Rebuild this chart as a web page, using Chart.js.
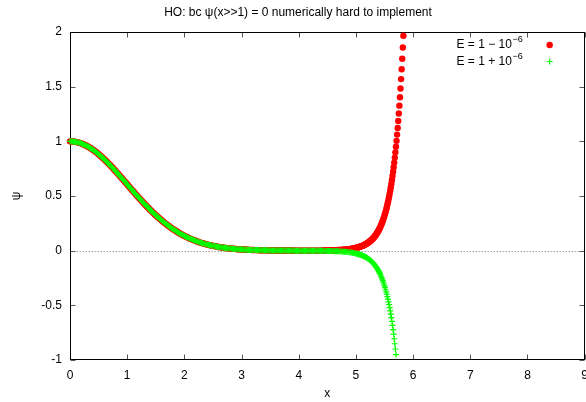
<!DOCTYPE html>
<html>
<head>
<meta charset="utf-8">
<script src="https://cdn.jsdelivr.net/npm/chart.js@4"></script>
<style>
  html, body { margin: 0; padding: 0; background: #fff; overflow: hidden; }
  #wrap { width: 586px; height: 402px; overflow: hidden; }
</style>
</head>
<body>
<div id="wrap"><canvas id="psiChart" width="596" height="402"></canvas></div>
<script>
// x grid: coarse where the curve is smooth, 0.01 where it blows up
const xCoarse = [
  0,0.02,0.04,0.06,0.08,0.1,0.12,0.14,0.16,0.18,0.2,0.22,0.24,0.26,0.28,0.3,0.32,0.34,0.36,0.38,0.4,0.42,0.44,0.46,0.48,
  0.5,0.52,0.54,0.56,0.58,0.6,0.62,0.64,0.66,0.68,0.7,0.72,0.74,0.76,0.78,0.8,0.82,0.84,0.86,0.88,0.9,0.92,0.94,0.96,0.98,
  1,1.02,1.04,1.06,1.08,1.1,1.12,1.14,1.16,1.18,1.2,1.22,1.24,1.26,1.28,1.3,1.32,1.34,1.36,1.38,1.4,1.42,1.44,1.46,1.48,
  1.5,1.52,1.54,1.56,1.58,1.6,1.62,1.64,1.66,1.68,1.7,1.72,1.74,1.76,1.78,1.8,1.82,1.84,1.86,1.88,1.9,1.92,1.94,1.96,1.98,
  2,2.02,2.04,2.06,2.08,2.1,2.12,2.14,2.16,2.18,2.2,2.22,2.24,2.26,2.28,2.3,2.32,2.34,2.36,2.38,2.4,2.42,2.44,2.46,2.48,
  2.5,2.52,2.54,2.56,2.58,2.6,2.62,2.64,2.66,2.68,2.7,2.72,2.74,2.76,2.78,2.8,2.82,2.84,2.86,2.88,2.9,2.92,2.94,2.96,2.98,
  3,3.02,3.04,3.06,3.08,3.1,3.12,3.14,3.16,3.18,3.2,3.22,3.24,3.26,3.28,3.3,3.32,3.34,3.36,3.38,3.4,3.42,3.44,3.46,3.48,
  3.5,3.52,3.54,3.56,3.58,3.6,3.62,3.64,3.66,3.68,3.7,3.72,3.74,3.76,3.78,3.8,3.82,3.84,3.86,3.88,3.9,3.92,3.94,3.96,3.98,
  4,4.02,4.04,4.06,4.08,4.1,4.12,4.14,4.16,4.18,4.2,4.22,4.24,4.26,4.28,4.3,4.32,4.34,4.36,4.38,4.4,4.42,4.44,4.46,4.48,
  4.5,4.52,4.54,4.56,4.58,4.6,4.62,4.64,4.66,4.68,4.7,4.72,4.74,4.76,4.78,4.8,4.82,4.84,4.86,4.88,4.9,4.92,4.94,4.96,4.98,
  5
];
const xFine = [
  5.01,5.02,5.03,5.04,5.05,5.06,5.07,5.08,5.09,5.1,5.11,5.12,5.13,5.14,5.15,5.16,5.17,5.18,5.19,5.2,
  5.21,5.22,5.23,5.24,5.25,5.26,5.27,5.28,5.29,5.3,5.31,5.32,5.33,5.34,5.35,5.36,5.37,5.38,5.39,5.4,
  5.41,5.42,5.43,5.44,5.45,5.46,5.47,5.48,5.49,5.5,5.51,5.52,5.53,5.54,5.55,5.56,5.57,5.58,5.59,5.6,
  5.61,5.62,5.63,5.64,5.65,5.66,5.67,5.68,5.69,5.7,5.71,5.72,5.73,5.74,5.75,5.76,5.77,5.78,5.79,5.8,
  5.81,5.82,5.83
];

// both runs coincide up to x = 4.4
const psiShared = [
  1.000,1.000,0.999,0.998,0.997,0.995,0.993,0.990,0.987,0.984,0.980,0.976,0.972,0.967,0.962,0.956,0.950,0.944,0.937,0.930,0.923,0.916,0.908,0.900,0.891,
  0.882,0.874,0.864,0.855,0.845,0.835,0.825,0.815,0.804,0.794,0.783,0.772,0.761,0.749,0.738,0.726,0.714,0.703,0.691,0.679,0.667,0.655,0.643,0.631,0.619,
  0.607,0.594,0.582,0.570,0.558,0.546,0.534,0.522,0.510,0.498,0.487,0.475,0.464,0.452,0.441,0.430,0.418,0.407,0.397,0.386,0.375,0.365,0.355,0.344,0.334,
  0.325,0.315,0.305,0.296,0.287,0.278,0.269,0.261,0.252,0.244,0.236,0.228,0.220,0.213,0.205,0.198,0.191,0.184,0.177,0.171,0.164,0.158,0.152,0.146,0.141,
  0.135,0.130,0.125,0.120,0.115,0.110,0.106,0.101,0.097,0.093,0.089,0.085,0.081,0.078,0.074,0.071,0.068,0.065,0.062,0.059,0.056,0.053,0.051,0.049,0.046,
  0.044,0.042,0.040,0.038,0.036,0.034,0.032,0.031,0.029,0.028,0.026,0.025,0.023,0.022,0.021,0.020,0.019,0.018,0.017,0.016,0.015,0.014,0.013,0.013,0.012,
  0.011,0.010,0.010,0.009,0.009,0.008,0.008,0.007,0.007,0.006,0.006,0.006,0.005,0.005,0.005,0.004,0.004,0.004,0.004,0.003,0.003,0.003,0.003,0.003,0.002,
  0.002,0.002,0.002,0.002,0.002,0.002,0.001,0.001,0.001,0.001,0.001,0.001,0.001,0.001,0.001,0.001,0.001,0.001,0.001,0.001,0,0,0,0,0,
  0,0,0,0,0,0,0,0,0,0,0,0,0,0,0,0,0,0,0,0,0
];

// E = 1 - 1e-6 : runs away upwards (x = 4.42 ... 5.83)
const psiLowTail = [
  0.0019,0.0021,0.0022,0.0024,0.0027,0.0029,0.0031,0.0034,0.0037,0.0041,0.0045,0.0049,0.0053,0.0058,0.0064,
  0.0070,0.0076,0.0083,0.0091,0.0100,0.0110,0.0120,0.0132,0.0145,0.0159,0.0175,0.0192,0.0212,0.0233,0.0256,
  0.0269,0.0282,0.0296,0.0311,0.0326,0.0342,0.0359,0.0377,0.0396,0.0416,
  0.0437,0.0459,0.0482,0.0507,0.0532,0.0559,0.0588,0.0618,0.0650,0.0683,
  0.0718,0.0755,0.0794,0.0835,0.0878,0.0924,0.0972,0.1023,0.1076,0.1133,
  0.1192,0.1255,0.1321,0.1391,0.1464,0.1542,0.1624,0.1710,0.1802,0.1898,
  0.2000,0.2107,0.2220,0.2340,0.2467,0.2600,0.2741,0.2890,0.3047,0.3214,
  0.3389,0.3575,0.3771,0.3979,0.4198,0.4430,0.4675,0.4934,0.5208,0.5498,
  0.5805,0.6129,0.6472,0.6835,0.7220,0.7626,0.8056,0.8512,0.8994,0.9504,
  1.0044,1.0616,1.1222,1.1864,1.2544,1.3264,1.4027,1.4835,1.5691,1.6599,
  1.7560,1.8580,1.9660
];

// E = 1 + 1e-6 : runs away downwards (x = 4.42 ... 5.70)
const psiHighTail = [
  -0.0019,-0.0021,-0.0022,-0.0024,-0.0027,-0.0029,-0.0031,-0.0034,-0.0037,-0.0041,-0.0045,-0.0049,-0.0053,-0.0058,-0.0064,
  -0.0070,-0.0076,-0.0083,-0.0091,-0.0100,-0.0110,-0.0120,-0.0132,-0.0145,-0.0159,-0.0175,-0.0192,-0.0212,-0.0233,-0.0256,
  -0.0269,-0.0282,-0.0296,-0.0311,-0.0326,-0.0342,-0.0359,-0.0377,-0.0396,-0.0416,
  -0.0437,-0.0459,-0.0482,-0.0507,-0.0532,-0.0559,-0.0588,-0.0618,-0.0650,-0.0683,
  -0.0718,-0.0755,-0.0794,-0.0835,-0.0878,-0.0924,-0.0972,-0.1023,-0.1076,-0.1133,
  -0.1192,-0.1255,-0.1321,-0.1391,-0.1464,-0.1542,-0.1624,-0.1710,-0.1802,-0.1898,
  -0.2000,-0.2107,-0.2220,-0.2340,-0.2467,-0.2600,-0.2741,-0.2890,-0.3047,-0.3214,
  -0.3389,-0.3575,-0.3771,-0.3979,-0.4198,-0.4430,-0.4675,-0.4934,-0.5208,-0.5498,
  -0.5805,-0.6129,-0.6472,-0.6835,-0.7220,-0.7626,-0.8056,-0.8512,-0.8994,-0.9504
];

const seriesLabels = ['E = 1 \u2212 10', 'E = 1 + 10'];
const labelPowers = ['\u22126', '\u22126'];
const titleText = 'HO: bc \u03c8(x>>1) = 0 numerically hard to implement';

const xs = xCoarse.concat(xFine);
const toPoints = ys => ys.map((y, i) => ({ x: xs[i], y: y }));

const FONT = '"Liberation Sans", Arial, Helvetica, sans-serif';
Chart.defaults.font.family = FONT;
Chart.defaults.font.size = 12;
Chart.defaults.color = '#000';

// gnuplot look: dotted zero axis, full frame with inward ticks, key inside
const gnuplotFrame = {
  id: 'gnuplotFrame',
  beforeDatasetsDraw(chart) {
    const { ctx, chartArea: a, scales } = chart;
    const L = Math.round(a.left) + 0.5, R = Math.round(a.right) - 0.5;
    const T = Math.round(a.top) + 0.5, B = Math.round(a.bottom) - 0.5;
    ctx.save();
    ctx.lineWidth = 1;
    const y0 = Math.round(scales.y.getPixelForValue(0)) + 0.5;
    ctx.strokeStyle = '#a0a0a0';
    ctx.setLineDash([1.5, 1.5]);
    ctx.beginPath();
    ctx.moveTo(L, y0);
    ctx.lineTo(R, y0);
    ctx.stroke();
    ctx.setLineDash([]);

    ctx.strokeStyle = '#555';
    ctx.beginPath();
    scales.x.ticks.forEach(t => {
      const px = Math.round(scales.x.getPixelForValue(t.value)) + 0.5;
      ctx.moveTo(px, B); ctx.lineTo(px, B - 5);
      ctx.moveTo(px, T); ctx.lineTo(px, T + 5);
    });
    scales.y.ticks.forEach(t => {
      const py = Math.round(scales.y.getPixelForValue(t.value)) + 0.5;
      ctx.moveTo(L, py); ctx.lineTo(L + 5, py);
      ctx.moveTo(R, py); ctx.lineTo(R - 5, py);
    });
    ctx.stroke();

    ctx.strokeStyle = '#000';
    ctx.strokeRect(L, T, R - L, B - T);
    ctx.restore();
  },
  afterDatasetsDraw(chart) {
    const { ctx, chartArea: a } = chart;
    const rows = [a.top + 13, a.top + 29.5];
    const xEnd = a.right - 62;
    const mx = a.right - 35;
    ctx.save();
    ctx.textAlign = 'left';
    ctx.textBaseline = 'middle';
    chart.data.datasets.forEach((ds, i) => {
      const yr = rows[i];
      ctx.font = '9px ' + FONT;
      const supW = ctx.measureText(labelPowers[i]).width;
      ctx.font = '12px ' + FONT;
      const baseW = ctx.measureText(seriesLabels[i]).width;
      ctx.fillStyle = '#000';
      ctx.fillText(seriesLabels[i], xEnd - supW - baseW - 0.5, yr);
      ctx.font = '9px ' + FONT;
      ctx.fillText(labelPowers[i], xEnd - supW, yr - 5);
      if (ds.pointStyle === 'circle') {
        ctx.fillStyle = ds.backgroundColor;
        ctx.beginPath();
        ctx.arc(mx, yr, ds.pointRadius, 0, Math.PI * 2);
        ctx.fill();
      } else {
        ctx.strokeStyle = ds.borderColor;
        ctx.lineWidth = ds.borderWidth;
        ctx.beginPath();
        ctx.moveTo(mx - ds.pointRadius, yr); ctx.lineTo(mx + ds.pointRadius, yr);
        ctx.moveTo(mx, yr - ds.pointRadius); ctx.lineTo(mx, yr + ds.pointRadius);
        ctx.stroke();
      }
    });
    ctx.restore();
  }
};

new Chart(document.getElementById('psiChart'), {
  type: 'scatter',
  data: {
    datasets: [
      {
        label: seriesLabels[0] + labelPowers[0],
        data: toPoints(psiShared.concat(psiLowTail)),
        pointStyle: 'circle',
        pointRadius: 3.2,
        borderWidth: 0,
        backgroundColor: '#ff0000',
        borderColor: '#ff0000',
        clip: false,
        order: 1
      },
      {
        label: seriesLabels[1] + labelPowers[1],
        data: toPoints(psiShared.concat(psiHighTail)),
        pointStyle: 'cross',
        pointRadius: 3,
        borderWidth: 1.2,
        backgroundColor: '#00ff00',
        borderColor: '#00ff00',
        clip: false,
        order: 0
      }
    ]
  },
  options: {
    responsive: false,
    devicePixelRatio: 1,
    animation: false,
    events: [],
    layout: { padding: 0 },
    plugins: {
      legend: { display: false },
      tooltip: { enabled: false },
      title: {
        display: true,
        text: titleText,
        color: '#000',
        font: { size: 12, weight: 'normal' },
        padding: { top: 5, bottom: 12.6 }
      }
    },
    scales: {
      x: {
        type: 'linear',
        min: 0,
        max: 9,
        grid: { display: false, drawTicks: false },
        border: { display: false },
        ticks: { stepSize: 1, padding: 8, color: '#000', callback: v => String(v) },
        title: { display: true, text: 'x', color: '#000', padding: { top: 0, bottom: 1 } },
        afterFit: s => { s.height = 42; }
      },
      y: {
        min: -1,
        max: 2,
        grid: { display: false, drawTicks: false },
        border: { display: false },
        ticks: { stepSize: 0.5, padding: 8, color: '#000', callback: v => String(v) },
        title: { display: true, text: '\u03c8', color: '#000', padding: { top: 9, bottom: 0 } },
        afterFit: s => { s.width = 70; }
      }
    }
  },
  plugins: [gnuplotFrame]
});
</script>
</body>
</html>
